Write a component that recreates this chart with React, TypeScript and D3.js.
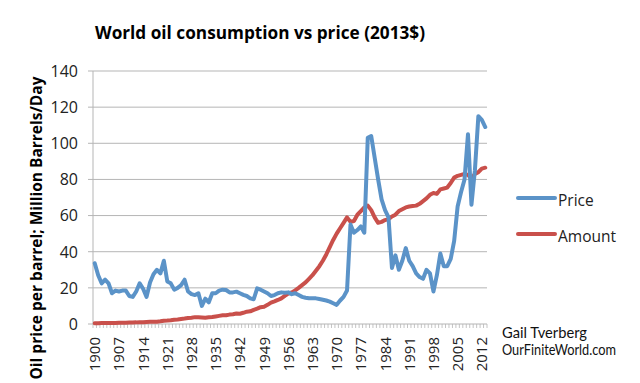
import React from "react";
import * as d3 from "d3";

const years: number[] = d3.range(1900, 2014);

const price: number[] = [
  33.6, 27, 22.5, 24.5, 22.5, 17, 18.5, 18, 18.5, 18.5,
  15.5, 15, 18, 22.5, 19.5, 15, 23, 27.5, 30, 28,
  35, 23.5, 22.5, 19, 20, 21.5, 24.5, 18, 16.5, 16,
  17, 10, 14, 12, 17, 17, 18.5, 19, 18.8, 17.5,
  17.5, 17.9, 17, 16.1, 15.5, 14.2, 13.7, 19.7, 19, 18,
  17, 15.5, 16, 17, 17.5, 17.3, 17.5, 16.5, 17, 16,
  15, 14.5, 14.2, 14.2, 14.2, 13.8, 13.4, 13, 12.4, 11.5,
  10.6, 13, 15, 18.5, 55, 50.5, 52, 54, 50.5, 103,
  104, 92, 80, 69, 63, 59, 31, 38, 30, 35,
  42, 35, 32, 28, 26, 25, 30, 28, 18, 27,
  39, 32, 32, 36, 46, 65, 73, 80, 105, 66,
  85, 115, 113, 109,
];

const amount: number[] = [
  0.4, 0.45, 0.5, 0.5, 0.55, 0.6, 0.6, 0.7, 0.7, 0.75,
  0.8, 0.85, 0.9, 1.0, 1.0, 1.1, 1.2, 1.3, 1.3, 1.5,
  1.8, 1.9, 2.1, 2.4, 2.5, 2.8, 3.0, 3.3, 3.5, 3.8,
  3.7, 3.6, 3.5, 3.7, 3.9, 4.2, 4.5, 4.8, 4.8, 5.2,
  5.4, 5.8, 5.7, 6.2, 6.8, 7.0, 7.8, 8.5, 9.3, 9.6,
  10.6, 11.8, 12.5, 13.3, 14.2, 15.6, 16.8, 17.5, 18.6, 20,
  21.5, 23.0, 25.0, 27.0, 29.5, 32.0, 35.0, 38.5, 42.5, 46.5,
  50, 53, 56, 59, 56.5, 57, 60.5, 62.5, 64.5, 65.5,
  63, 59, 56, 56.5, 57.5, 58, 59.5, 60.5, 62.5, 63.5,
  64.5, 65, 65.3, 65.5, 66.5, 68, 69.5, 71.5, 72.5, 72,
  74.5, 75, 75.5, 78, 81, 82, 82.5, 83, 82.5, 80.5,
  83, 84, 86, 86.5,
];

const yTicks: number[] = [0, 20, 40, 60, 80, 100, 120, 140];
const xLabelYears: number[] = d3.range(1900, 2013, 7);

const title = "World oil consumption vs price (2013$)";
const yTitle = "Oil price per barrel; Million Barrels/Day";
const seriesNames = ["Price", "Amount"];
const credit = ["Gail Tverberg", "OurFiniteWorld.com"];

const BLUE = "#5b93c8";
const RED = "#c9504b";
const GRID = "#b5b5b5";

export default function App() {
  const left = 93, right = 487, top = 71, bottom = 324;
  const x = d3.scaleBand<number>().domain(years).range([left, right]).padding(0);
  const y = d3.scaleLinear().domain([0, 140]).range([bottom, top]);
  const cx = (yr: number) => (x(yr) as number) + x.bandwidth() / 2;

  const line = d3
    .line<number>()
    .x((_, i) => cx(years[i]))
    .y((d) => y(d))
    .curve(d3.curveLinear);

  const font = "'Open Sans', 'DejaVu Sans', sans-serif";

  return (
    <svg width={640} height={383} style={{ position: "absolute", left: 0, top: 0, background: "#fff" }}>
      <rect x={0} y={0} width={640} height={383} fill="#fff" />
      <text x={260} y={38.5} textAnchor="middle" fontFamily={font} fontWeight={700} fontSize={18.5}
        textLength={330} lengthAdjust="spacingAndGlyphs" fill="#000">{title}</text>

      {yTicks.map((t) => (
        <g key={t}>
          <line x1={left - 5} x2={right} y1={y(t)} y2={y(t)} stroke={GRID} strokeWidth={1} />
          <text x={78} y={y(t) + 5.8} textAnchor="end" fontFamily={font} fontSize={16} fill="#222">{t}</text>
        </g>
      ))}
      <line x1={left} x2={left} y1={top} y2={bottom} stroke={GRID} strokeWidth={1} />
      {years.concat([2014]).map((yr, i) => {
        const xx = left + i * x.step();
        return <line key={yr} x1={xx} x2={xx} y1={bottom} y2={bottom + 4} stroke={GRID} strokeWidth={0.8} />;
      })}

      {xLabelYears.map((yr) => (
        <text key={yr} transform={`translate(${cx(yr) + 5.5},${337}) rotate(-90)`} textAnchor="end"
          fontFamily={font} fontSize={15} fill="#222">{yr}</text>
      ))}

      <text transform={`translate(42,228) rotate(-90)`} textAnchor="middle" fontFamily={font} fontWeight={700}
        fontSize={15.5} textLength={303} lengthAdjust="spacingAndGlyphs" fill="#000">{yTitle}</text>

      <path d={line(amount) || ""} fill="none" stroke={RED} strokeWidth={4} strokeLinejoin="round" strokeLinecap="round" />
      <path d={line(price) || ""} fill="none" stroke={BLUE} strokeWidth={4} strokeLinejoin="round" strokeLinecap="round" />

      <line x1={518} x2={555} y1={198} y2={198} stroke={BLUE} strokeWidth={4} strokeLinecap="round" />
      <text x={558} y={206} fontFamily={font} fontSize={15.5} fill="#222">{seriesNames[0]}</text>
      <line x1={518} x2={555} y1={234} y2={234} stroke={RED} strokeWidth={4} strokeLinecap="round" />
      <text x={558} y={242} fontFamily={font} fontSize={15.5} fill="#222">{seriesNames[1]}</text>

      <text x={502} y={338} fontFamily="Lato, 'Open Sans', sans-serif" fontSize={15} textLength={85}
        lengthAdjust="spacingAndGlyphs" fill="#111">{credit[0]}</text>
      <text x={502} y={355} fontFamily="Lato, 'Open Sans', sans-serif" fontSize={15} textLength={114}
        lengthAdjust="spacingAndGlyphs" fill="#111">{credit[1]}</text>
    </svg>
  );
}
